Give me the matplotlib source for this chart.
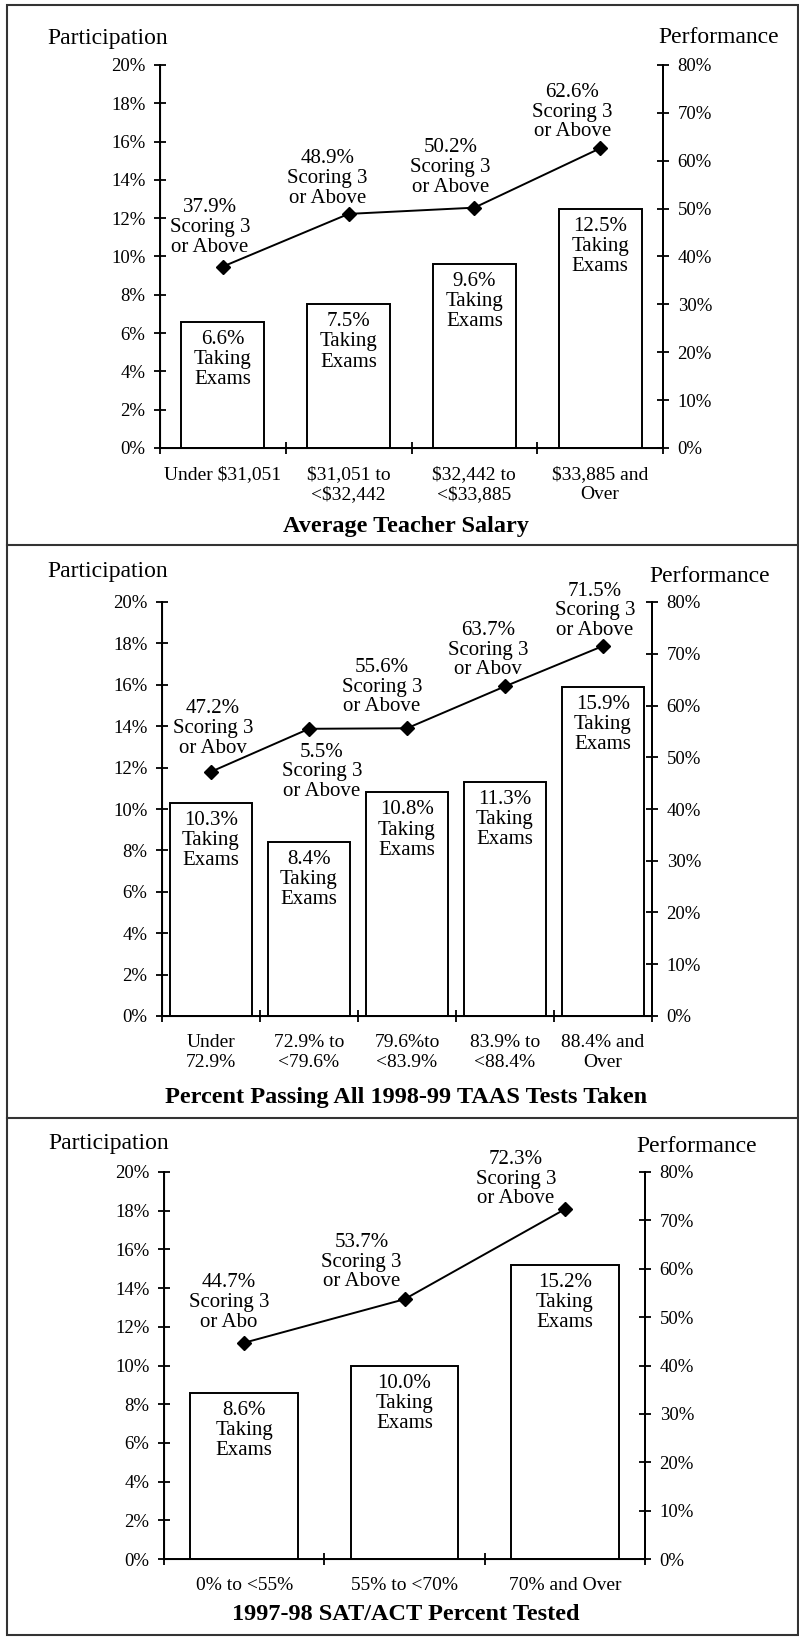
import numpy as np
import matplotlib
matplotlib.use("Agg")
import matplotlib.pyplot as plt
from matplotlib.lines import Line2D
from matplotlib.patches import Rectangle

plt.rcParams['font.family'] = ['Liberation Serif', 'DejaVu Serif']
plt.rcParams['text.parse_math'] = False

# --- data ---
salary_cats = ["Under $31,051", "$31,051 to\n<$32,442", "$32,442 to\n<$33,885", "$33,885 and\nOver"]
salary_taking = [6.6, 7.5, 9.6, 12.5]
salary_scoring = [37.9, 48.9, 50.2, 62.6]
salary_score_labels = ["37.9%\nScoring 3\nor Above", "48.9%\nScoring 3\nor Above",
                       "50.2%\nScoring 3\nor Above", "62.6%\nScoring 3\nor Above"]

taas_cats = ["Under\n72.9%", "72.9% to\n<79.6%", "79.6%to\n<83.9%", "83.9% to\n<88.4%", "88.4% and\nOver"]
taas_taking = [10.3, 8.4, 10.8, 11.3, 15.9]
taas_scoring = [47.2, 55.5, 55.6, 63.7, 71.5]
taas_score_labels = ["47.2%\nScoring 3\nor Abov", "5.5%\nScoring 3\nor Above",
                     "55.6%\nScoring 3\nor Above", "63.7%\nScoring 3\nor Abov",
                     "71.5%\nScoring 3\nor Above"]

sat_cats = ["0% to <55%", "55% to <70%", "70% and Over"]
sat_taking = [8.6, 10.0, 15.2]
sat_scoring = [44.7, 53.7, 72.3]
sat_score_labels = ["44.7%\nScoring 3\nor Abo", "53.7%\nScoring 3\nor Above", "72.3%\nScoring 3\nor Above"]

titles = ["Average Teacher Salary", "Percent Passing All 1998-99 TAAS Tests Taken",
          "1997-98 SAT/ACT Percent Tested"]

W, H = 799, 1637
fig = plt.figure(figsize=(W / 100, H / 100), dpi=100)


def fx(x):
    return x / W


def fy(y):
    return 1 - y / H


# panel layout in pixels: axes box (left, right, top, bottom), label offsets, bar width
panels = [
    dict(cats=salary_cats, taking=salary_taking, scoring=salary_scoring, labels=salary_score_labels,
         box=(160, 663, 65, 448), width=0.66,
         offs=[(-13, 15, 'b'), (-21, 11, 'b'), (-24, 16, 'b'), (-28, 12, 'b')],
         part=(47, 44), perf=(658, 43), title_y=532),
    dict(cats=taas_cats, taking=taas_taking, scoring=taas_scoring, labels=taas_score_labels,
         box=(162, 652, 602, 1016), width=0.84,
         offs=[(2, 19, 'b'), (13, -14, 't'), (-25, 17, 'b'), (-17, 12, 'b'), (-8, 11, 'b')],
         part=(47, 577), perf=(649, 582), title_y=1103),
    dict(cats=sat_cats, taking=sat_taking, scoring=sat_scoring, labels=sat_score_labels,
         box=(164, 645, 1172, 1559), width=0.67,
         offs=[(-15, 16, 'b'), (-43, 13, 'b'), (-49, 6, 'b')],
         part=(48, 1149), perf=(636, 1152), title_y=1620),
]

for p, title in zip(panels, titles):
    l, r, t, b = p['box']
    ax = fig.add_axes([fx(l), fy(b), (r - l) / W, (b - t) / H])
    n = len(p['cats'])
    x = np.arange(n)

    ax.bar(x, p['taking'], width=p['width'], color='white', edgecolor='black', linewidth=1.4, zorder=2)
    for xi, v in zip(x, p['taking']):
        ax.annotate(f"{v:.1f}%\nTaking\nExams", xy=(xi, v), xytext=(0, -8), textcoords='offset pixels',
                    ha='center', va='top', fontsize=15, linespacing=1.08, zorder=3)

    ax.set_xlim(-0.5, n - 0.5)
    ax.set_ylim(0, 20)
    ax.set_yticks(np.arange(0, 21, 2))
    ax.set_yticklabels([f"{v}%" for v in range(0, 21, 2)])
    ax.set_xticks(x)
    ax.set_xticklabels(p['cats'], linespacing=1.2)
    ax.set_xticks(np.arange(-0.5, n, 1), minor=True)
    ax.tick_params(axis='x', which='major', length=0, pad=13, labelsize=14)
    ax.tick_params(axis='x', which='minor', direction='inout', length=9, width=1.3)
    ax.tick_params(axis='y', direction='inout', length=9, width=1.3, pad=6, labelsize=13.5)
    for s in ['left', 'bottom', 'right']:
        ax.spines[s].set_linewidth(1.4)
    ax.spines['top'].set_visible(False)
    ax.set_facecolor('none')

    ax2 = ax.twinx()
    ax2.set_ylim(0, 80)
    ax2.set_yticks(np.arange(0, 81, 10))
    ax2.set_yticklabels([f"{v}%" for v in range(0, 81, 10)])
    ax2.tick_params(axis='y', direction='inout', length=9, width=1.3, pad=6, labelsize=13.5)
    ax2.spines['top'].set_visible(False)
    ax2.spines['right'].set_linewidth(1.4)
    ax2.plot(x, p['scoring'], color='black', linewidth=1.4, marker='D', markersize=7, zorder=4)
    for xi, v, lab, (dx, dy, va) in zip(x, p['scoring'], p['labels'], p['offs']):
        ax2.annotate(lab, xy=(xi, v), xytext=(dx, dy), textcoords='offset pixels',
                     ha='center', va='baseline' if va == 'b' else 'top',
                     fontsize=15, linespacing=1.05)

    fig.text(fx(p['part'][0]), fy(p['part'][1]), "Participation", fontsize=17, va='baseline')
    fig.text(fx(p['perf'][0]), fy(p['perf'][1]), "Performance", fontsize=17, va='baseline')
    fig.text(fx(406), fy(p['title_y']), title, fontsize=17.5, fontweight='bold', ha='center', va='baseline')

# frame around the three panels
fig.add_artist(Rectangle((fx(7), fy(1635)), fx(798) - fx(7), fy(5) - fy(1635), fill=False,
                         edgecolor='#333333', linewidth=1.5, transform=fig.transFigure))
for yy in [545, 1118]:
    fig.add_artist(Line2D([fx(7), fx(798)], [fy(yy), fy(yy)], color='#333333', linewidth=1.5,
                          transform=fig.transFigure))

fig.savefig("out.png", dpi=100, facecolor='white')
